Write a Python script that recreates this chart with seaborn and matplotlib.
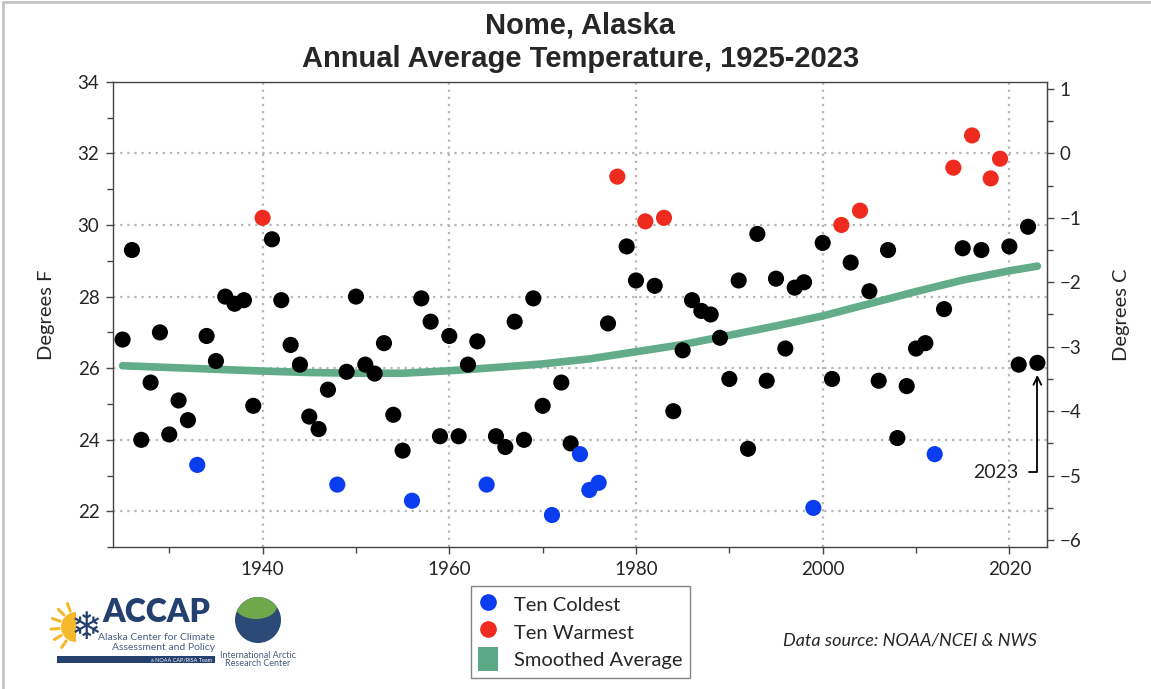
import numpy as np
import pandas as pd
import seaborn as sns
import matplotlib.pyplot as plt
from matplotlib.lines import Line2D
from matplotlib.patches import Patch, Circle, Wedge, Rectangle, Ellipse
from matplotlib.ticker import MultipleLocator

# annual average temperature at Nome (deg F)
years = list(range(1925, 2024))
temps_f = [
    26.8, 29.3, 24.0, 25.6, 27.0, 24.15, 25.1, 24.55, 23.3, 26.9,     # 1925-1934
    26.2, 28.0, 27.8, 27.9, 24.95, 30.2, 29.6, 27.9, 26.65, 26.1,     # 1935-1944
    24.65, 24.3, 25.4, 22.75, 25.9, 28.0, 26.1, 25.85, 26.7, 24.7,    # 1945-1954
    23.7, 22.3, 27.95, 27.3, 24.1, 26.9, 24.1, 26.1, 26.75, 22.75,    # 1955-1964
    24.1, 23.8, 27.3, 24.0, 27.95, 24.95, 21.9, 25.6, 23.9, 23.6,     # 1965-1974
    22.6, 22.8, 27.25, 31.35, 29.4, 28.45, 30.1, 28.3, 30.2, 24.8,    # 1975-1984
    26.5, 27.9, 27.6, 27.5, 26.85, 25.7, 28.45, 23.75, 29.75, 25.65,  # 1985-1994
    28.5, 26.55, 28.25, 28.4, 22.1, 29.5, 25.7, 30.0, 28.95, 30.4,    # 1995-2004
    28.15, 25.65, 29.3, 24.05, 25.5, 26.55, 26.7, 23.6, 27.65, 31.6,  # 2005-2014
    29.35, 32.5, 29.3, 31.3, 31.85, 29.4, 26.1, 29.95, 26.15,         # 2015-2023
]
cold_years = [1933, 1948, 1956, 1964, 1971, 1974, 1975, 1976, 1999, 2012]
warm_years = [1940, 1978, 1981, 1983, 2002, 2004, 2014, 2016, 2018, 2019]

# smoothed average curve, read at a few years
smooth_years = [1925, 1930, 1935, 1940, 1945, 1950, 1955, 1960, 1965, 1970, 1975,
                1980, 1985, 1990, 1995, 2000, 2005, 2010, 2015, 2020, 2023]
smooth_f = [26.07, 26.02, 25.97, 25.92, 25.88, 25.86, 25.86, 25.93, 26.02, 26.12, 26.26,
            26.46, 26.66, 26.92, 27.18, 27.46, 27.8, 28.14, 28.46, 28.72, 28.85]

labels = ["Ten Coldest", "Ten Warmest", "Smoothed Average"]

BLUE = "#0a3cf0"
RED = "#ee2b1e"
GREEN = "#5aa884"
NAVY = "#23406e"

sns.set_style("ticks")
plt.rcParams["font.family"] = ["Lato", "DejaVu Sans"]

df = pd.DataFrame({"year": years, "temp": temps_f})
df["group"] = "other"
df.loc[df["year"].isin(cold_years), "group"] = "cold"
df.loc[df["year"].isin(warm_years), "group"] = "warm"

fig = plt.figure(figsize=(11.51, 6.89), dpi=100)
ax = fig.add_axes([0.0984, 0.2057, 0.811, 0.6757])

sns.lineplot(x=smooth_years, y=smooth_f, ax=ax, color=GREEN, lw=5.5, alpha=0.95, zorder=2)
sns.scatterplot(data=df, x="year", y="temp", hue="group",
                palette={"other": "black", "cold": BLUE, "warm": RED},
                s=135, linewidth=0, legend=False, ax=ax, zorder=3)

ax.set_xlim(1924, 2024)
ax.set_ylim(21, 34)
ax.xaxis.set_major_locator(MultipleLocator(20))
ax.xaxis.set_minor_locator(MultipleLocator(10))
ax.yaxis.set_major_locator(MultipleLocator(2))
ax.yaxis.set_minor_locator(MultipleLocator(1))
ax.grid(True, which="major", color="#b5b5b5", linestyle=(0, (1, 2.2)), lw=1.6)
ax.set_axisbelow(True)
ax.tick_params(which="major", length=5, width=1, color="#444444", labelsize=13.5, pad=5)
ax.tick_params(which="minor", length=4, width=1, color="#444444")
for s in ax.spines.values():
    s.set_color("#444444")
    s.set_linewidth(1)
ax.set_xlabel("")
ax.set_ylabel("Degrees F", fontsize=14.5, labelpad=16)

sec = ax.secondary_yaxis("right", functions=(lambda f: (f - 32) * 5 / 9,
                                             lambda c: c * 9 / 5 + 32))
sec.yaxis.set_major_locator(MultipleLocator(1))
sec.yaxis.set_minor_locator(MultipleLocator(0.5))
sec.tick_params(which="major", length=5, width=1, color="#444444", labelsize=13.5, pad=4)
sec.tick_params(which="minor", length=4, width=1, color="#444444")
sec.spines["right"].set_color("#444444")
sec.set_ylabel("Degrees C", fontsize=14.5, labelpad=23)

ax.annotate("2023", xy=(2023, 25.85), xytext=(2021.0, 23.1), ha="right", va="center",
            fontsize=14,
            arrowprops=dict(arrowstyle="->", color="black", lw=1.3,
                            connectionstyle="angle,angleA=0,angleB=90,rad=0",
                            relpos=(1, 0.5), shrinkA=5, shrinkB=1))

fig.text(0.504, 1 - 42 / 689, "Nome, Alaska\nAnnual Average Temperature, 1925-2023",
         ha="center", va="center", fontsize=21, fontweight="bold",
         family="Liberation Sans", linespacing=1.25)

handles = [Line2D([], [], marker="o", ls="", color=BLUE, markersize=11),
           Line2D([], [], marker="o", ls="", color=RED, markersize=11),
           Patch(facecolor=GREEN, edgecolor="none")]
leg = fig.legend(handles, labels, loc="center", bbox_to_anchor=(0.504, 0.083),
                 fontsize=14.5, frameon=True, fancybox=False, edgecolor="#666666",
                 handlelength=1.0, handleheight=1.4, handletextpad=0.8,
                 labelspacing=0.2, borderpad=0.35)
leg.get_frame().set_linewidth(1)

fig.text(910 / 1151, 1 - 640 / 689, "Data source: NOAA/NCEI & NWS", ha="center",
         va="center", fontsize=13, style="italic")

# logos, placed in pixel positions (inches = px / 100)
tr = fig.dpi_scale_trans


def P(x, y):
    return x / 100, (689 - y) / 100


fig.patches.append(Wedge(P(76, 627), 0.15, 90, 270, facecolor="#f6b92b",
                         edgecolor="none", transform=tr))
for a in np.deg2rad([110, 135, 160, 185, 210, 235]):
    x0, y0 = P(76, 627)
    fig.lines.append(Line2D([x0 + 0.17 * np.cos(a), x0 + 0.25 * np.cos(a)],
                            [y0 + 0.17 * np.sin(a), y0 + 0.25 * np.sin(a)],
                            color="#f6b92b", lw=2.2, transform=tr))
fig.text(*P(86, 629), "\u2744", transform=tr, fontsize=27, color=NAVY,
         ha="center", va="center", family="DejaVu Sans")
fig.text(*P(102, 622), "ACCAP", transform=tr, fontsize=23, fontweight="heavy",
         color=NAVY, ha="left", va="baseline")
fig.text(*P(215, 637), "Alaska Center for Climate", transform=tr, fontsize=7.5,
         color="#4a5f80", ha="right", va="center")
fig.text(*P(215, 648), "Assessment and Policy", transform=tr, fontsize=7.5,
         color="#4a5f80", ha="right", va="center")
fig.patches.append(Rectangle(P(57, 663), 1.58, 0.07, facecolor=NAVY,
                             edgecolor="none", transform=tr))
fig.text(*P(212, 659.5), "a NOAA CAP/RISA Team", transform=tr, fontsize=4,
         color="white", ha="right", va="center")

globe = Circle(P(258, 620), 0.23, facecolor="#2b4a78", edgecolor="none", transform=tr)
fig.patches.append(globe)
land = Ellipse(P(256, 606), 0.42, 0.26, facecolor="#6fa84a", edgecolor="none",
               transform=tr)
land.set_clip_path(globe)
fig.patches.append(land)
fig.text(*P(258, 655), "International Arctic", transform=tr, fontsize=6.5,
         color="#4a5f80", ha="center", va="center")
fig.text(*P(258, 664), "Research Center", transform=tr, fontsize=6.5,
         color="#4a5f80", ha="center", va="center")

# light frame at the left and top edge
fig.lines.append(Line2D([0.003, 0.003], [0, 0.997], color="#c4c4c4", lw=2,
                        transform=fig.transFigure))
fig.lines.append(Line2D([0.003, 1], [0.997, 0.997], color="#c4c4c4", lw=2,
                        transform=fig.transFigure))

fig.savefig("out.png", dpi=100)
